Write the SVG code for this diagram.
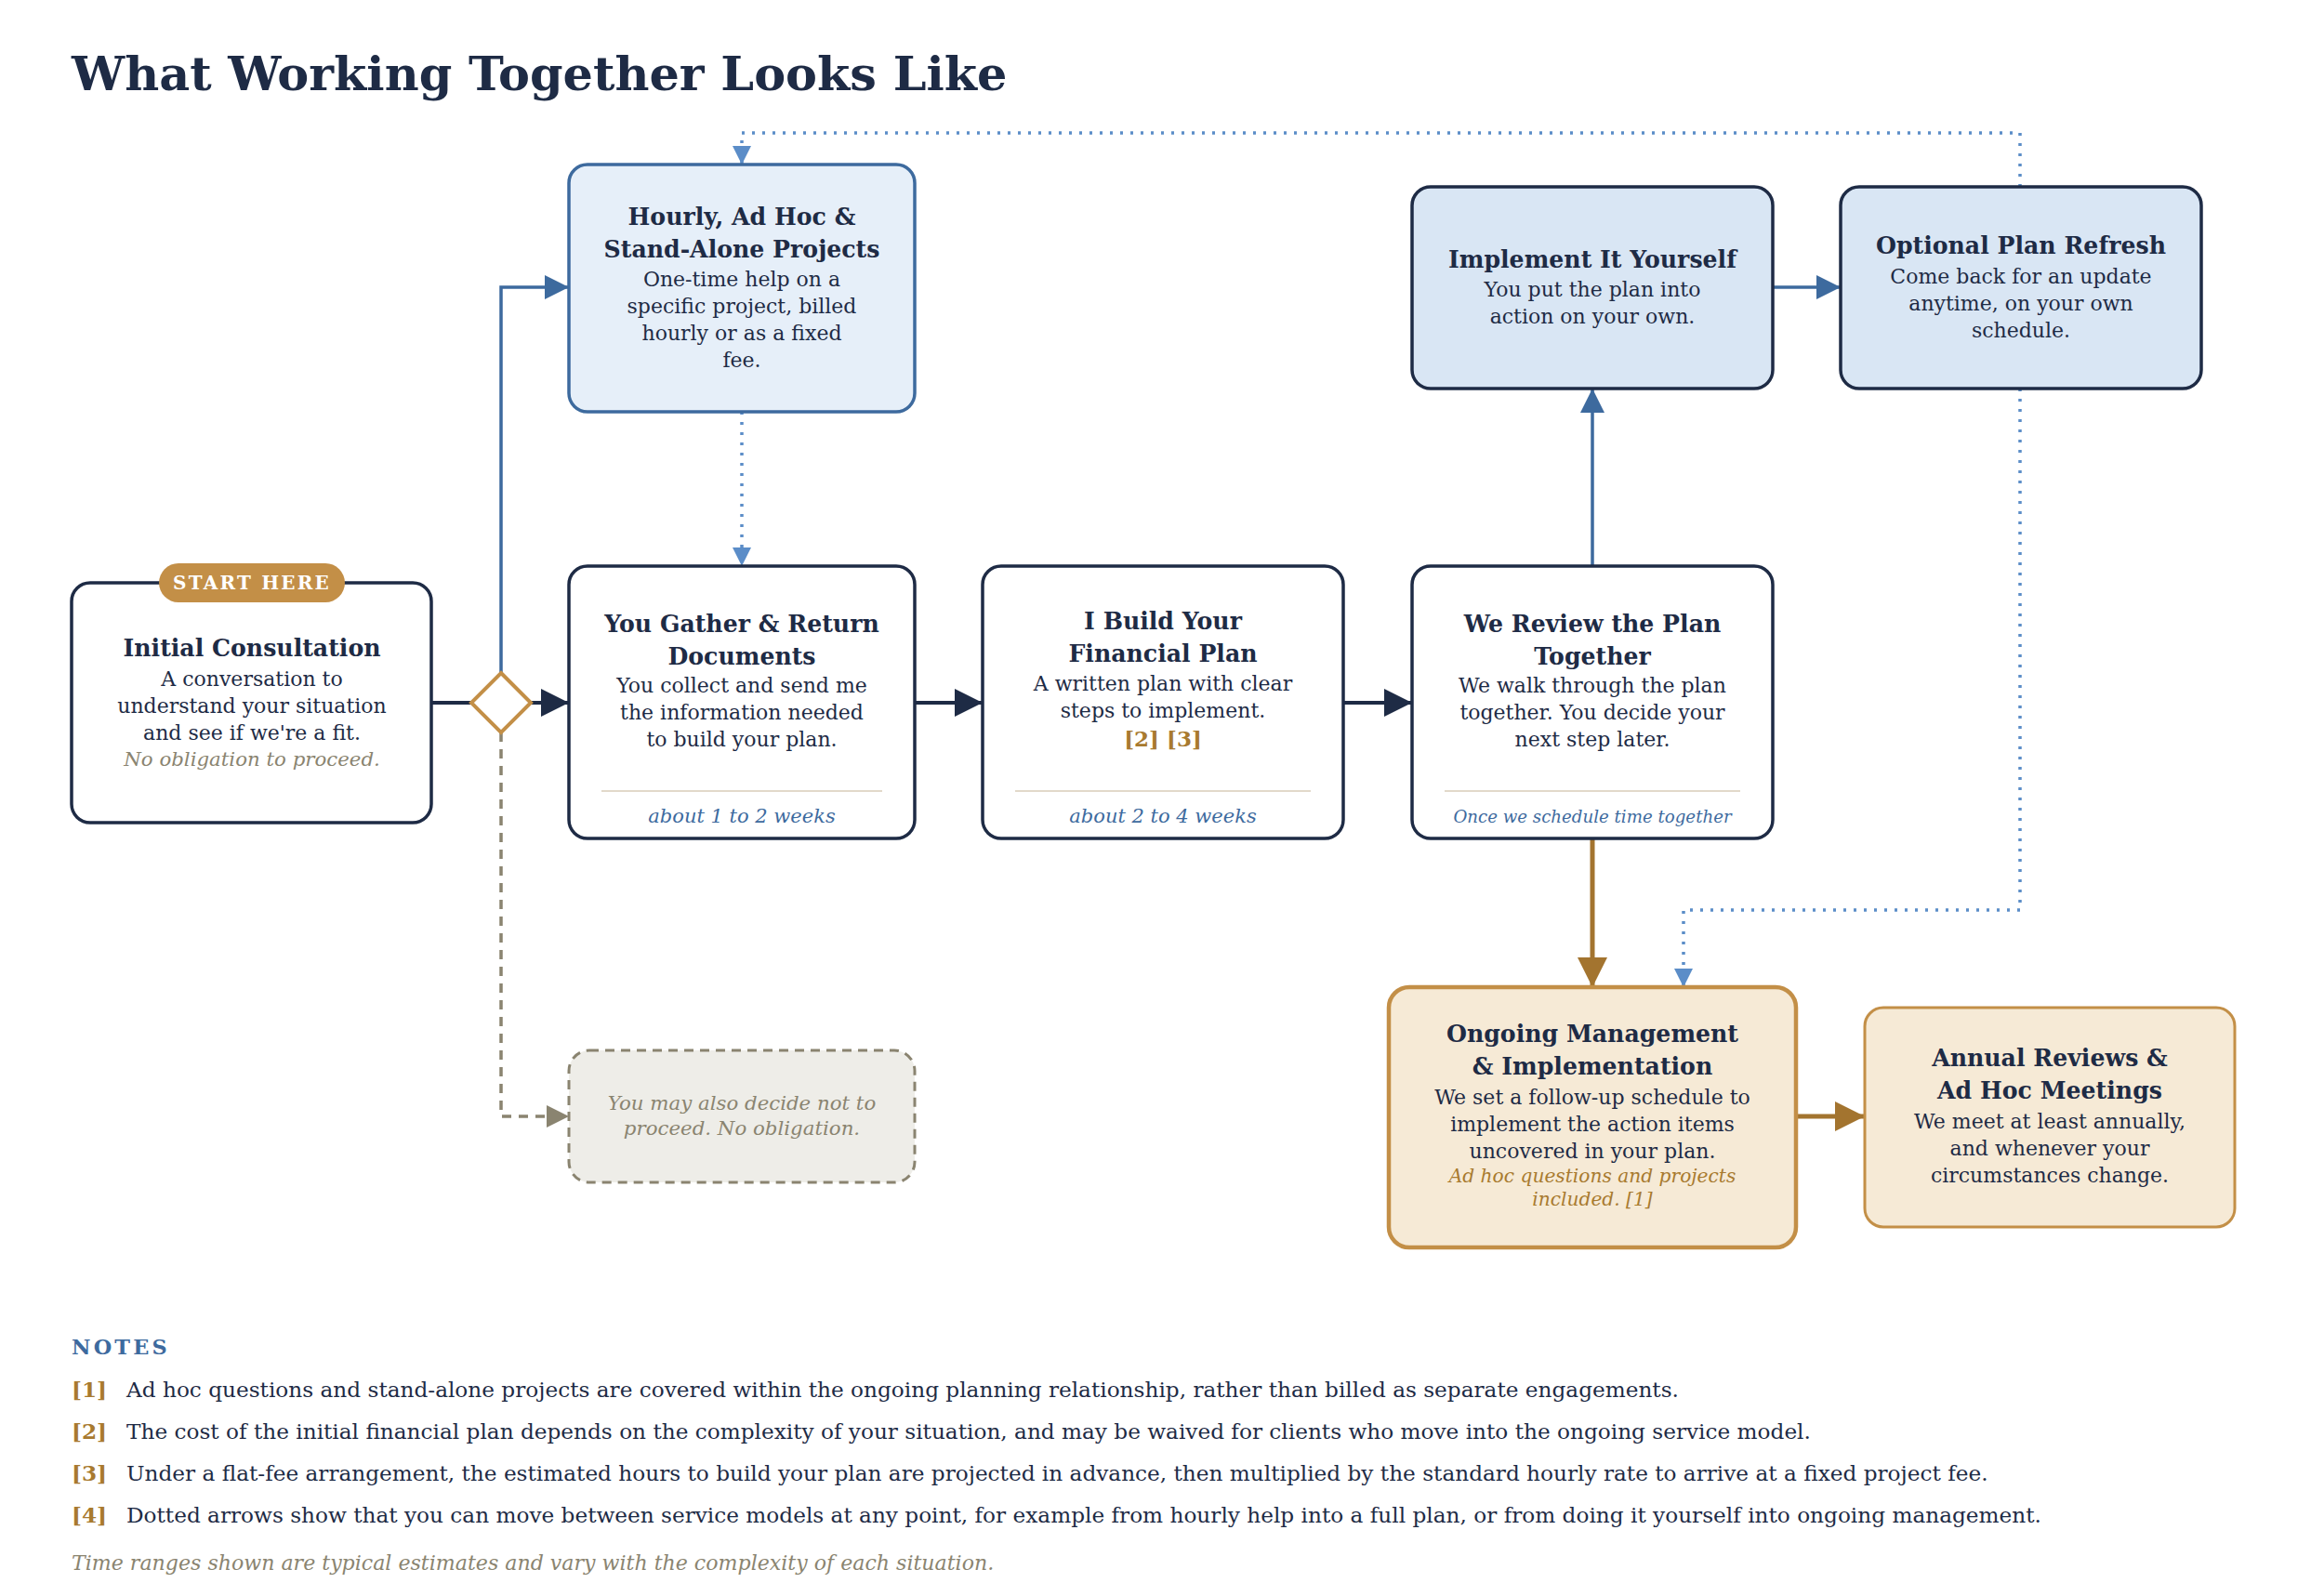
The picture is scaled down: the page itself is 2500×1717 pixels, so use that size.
<svg xmlns="http://www.w3.org/2000/svg" width="2500" height="1717" viewBox="0 0 2500 1717">
<style>
text{font-family:"DejaVu Serif","Liberation Serif",serif;}
.t{font-weight:bold;font-size:25.2px;fill:#1E2B45;text-anchor:middle;}
.b{font-size:22px;fill:#1E2B45;text-anchor:middle;}
.dur{font-size:21px;font-style:italic;fill:#3D6A9E;text-anchor:middle;}
.gi{font-size:21.3px;font-style:italic;fill:#8A8470;text-anchor:middle;}
.navy{fill:#FFFFFF;stroke:#1E2B45;stroke-width:3.5;}
.lb{fill:#D9E6F4;stroke:#1E2B45;stroke-width:3.5;}
.hr{fill:#E6EFF9;stroke:#3D6A9E;stroke-width:3.5;}
.cream{fill:#F6EAD6;stroke:#C38F47;stroke-width:3.5;}
.div{stroke:#D8CDB8;stroke-width:1.5;}
.note{font-size:23.2px;fill:#1E2B45;}
.nk{font-size:23.2px;font-weight:bold;fill:#A87A2F;}
</style>
<defs>
<marker id="aN" markerUnits="userSpaceOnUse" markerWidth="30" markerHeight="32" viewBox="0 0 10 10" refX="10" refY="5" orient="auto"><path d="M0,0 L10,5 L0,10 z" fill="#1E2B45"/></marker>
<marker id="aB" markerUnits="userSpaceOnUse" markerWidth="26" markerHeight="28" viewBox="0 0 10 10" refX="10" refY="5" orient="auto"><path d="M0,0 L10,5 L0,10 z" fill="#3D6A9E"/></marker>
<marker id="aD" markerUnits="userSpaceOnUse" markerWidth="20" markerHeight="22" viewBox="0 0 10 10" refX="10" refY="5" orient="auto"><path d="M0,0 L10,5 L0,10 z" fill="#5B8DC8"/></marker>
<marker id="aG" markerUnits="userSpaceOnUse" markerWidth="32" markerHeight="34" viewBox="0 0 10 10" refX="10" refY="5" orient="auto"><path d="M0,0 L10,5 L0,10 z" fill="#A3742F"/></marker>
<marker id="aX" markerUnits="userSpaceOnUse" markerWidth="24" markerHeight="26" viewBox="0 0 10 10" refX="10" refY="5" orient="auto"><path d="M0,0 L10,5 L0,10 z" fill="#8A8470"/></marker>
</defs>
<rect width="2500" height="1717" fill="#FFFFFF"/>
<text x="77" y="97" style="font-size:50.9px;font-weight:bold;fill:#1E2B45;">What Working Together Looks Like</text>

<g id="connectors" fill="none">
<path d="M464,756 L507,756" stroke="#1E2B45" stroke-width="4"/>
<path d="M571,756 L612,756" stroke="#1E2B45" stroke-width="4" marker-end="url(#aN)"/>
<path d="M539,724 L539,309 L612,309" stroke="#3D6A9E" stroke-width="3.5" marker-end="url(#aB)"/>
<path d="M539,788 L539,1201 L612,1201" stroke="#8A8470" stroke-width="3.5" stroke-dasharray="10,8" marker-end="url(#aX)"/>
<path d="M984,756 L1057,756" stroke="#1E2B45" stroke-width="4" marker-end="url(#aN)"/>
<path d="M1445,756 L1519,756" stroke="#1E2B45" stroke-width="4" marker-end="url(#aN)"/>
<path d="M1713,609 L1713,418" stroke="#3D6A9E" stroke-width="3.5" marker-end="url(#aB)"/>
<path d="M1907,309 L1980,309" stroke="#3D6A9E" stroke-width="3.5" marker-end="url(#aB)"/>
<path d="M1713,902 L1713,1062" stroke="#A3742F" stroke-width="5" marker-end="url(#aG)"/>
<path d="M1932,1201 L2006,1201" stroke="#A3742F" stroke-width="5" marker-end="url(#aG)"/>
<path d="M2173,201 L2173,143 L798,143 L798,177" stroke="#5B8DC8" stroke-width="3.5" stroke-dasharray="3,8" marker-end="url(#aD)"/>
<path d="M798,443 L798,609" stroke="#5B8DC8" stroke-width="3.5" stroke-dasharray="3,8" marker-end="url(#aD)"/>
<path d="M2173,418 L2173,979 L1811,979 L1811,1062" stroke="#5B8DC8" stroke-width="3.5" stroke-dasharray="3,8" marker-end="url(#aD)"/>
</g>

<g id="diamond">
<path d="M539,724 L571,756 L539,788 L507,756 Z" fill="#FFFFFF" stroke="#C38F47" stroke-width="4"/>
</g>

<g id="initial">
<rect class="navy" x="77" y="627" width="387" height="258" rx="20"/>
<rect x="171" y="606" width="200" height="42" rx="21" fill="#C38F47"/>
<text x="271" y="634" style="font-size:20px;font-weight:bold;fill:#FFFFFF;text-anchor:middle;letter-spacing:2.2px;">START HERE</text>
<text class="t" x="271" y="706">Initial Consultation</text>
<text class="b" x="271" y="738">A conversation to</text>
<text class="b" x="271" y="767">understand your situation</text>
<text class="b" x="271" y="796">and see if we're a fit.</text>
<text class="gi" x="271" y="824">No obligation to proceed.</text>
</g>

<g id="hourly">
<rect class="hr" x="612" y="177" width="372" height="266" rx="20"/>
<text class="t" x="798" y="242">Hourly, Ad Hoc &amp;</text>
<text class="t" x="798" y="277">Stand-Alone Projects</text>
<text class="b" x="798" y="308">One-time help on a</text>
<text class="b" x="798" y="337">specific project, billed</text>
<text class="b" x="798" y="366">hourly or as a fixed</text>
<text class="b" x="798" y="395">fee.</text>
</g>

<g id="gather">
<rect class="navy" x="612" y="609" width="372" height="293" rx="20"/>
<text class="t" x="798" y="680">You Gather &amp; Return</text>
<text class="t" x="798" y="715">Documents</text>
<text class="b" x="798" y="745">You collect and send me</text>
<text class="b" x="798" y="774">the information needed</text>
<text class="b" x="798" y="803">to build your plan.</text>
<line class="div" x1="647" y1="851" x2="949" y2="851"/>
<text class="dur" x="798" y="885">about 1 to 2 weeks</text>
</g>

<g id="build">
<rect class="navy" x="1057" y="609" width="388" height="293" rx="20"/>
<text class="t" x="1251" y="677">I Build Your</text>
<text class="t" x="1251" y="712">Financial Plan</text>
<text class="b" x="1251" y="743">A written plan with clear</text>
<text class="b" x="1251" y="772">steps to implement.</text>
<text x="1251" y="803" style="font-size:23px;font-weight:bold;fill:#A87A2F;text-anchor:middle;">[2] [3]</text>
<line class="div" x1="1092" y1="851" x2="1410" y2="851"/>
<text class="dur" x="1251" y="885">about 2 to 4 weeks</text>
</g>

<g id="review">
<rect class="navy" x="1519" y="609" width="388" height="293" rx="20"/>
<text class="t" x="1713" y="680">We Review the Plan</text>
<text class="t" x="1713" y="715">Together</text>
<text class="b" x="1713" y="745">We walk through the plan</text>
<text class="b" x="1713" y="774">together. You decide your</text>
<text class="b" x="1713" y="803">next step later.</text>
<line class="div" x1="1554" y1="851" x2="1872" y2="851"/>
<text class="dur" x="1713" y="885" style="font-size:18.2px;">Once we schedule time together</text>
</g>

<g id="implement">
<rect class="lb" x="1519" y="201" width="388" height="217" rx="20"/>
<text class="t" x="1713" y="288">Implement It Yourself</text>
<text class="b" x="1713" y="319">You put the plan into</text>
<text class="b" x="1713" y="348">action on your own.</text>
</g>

<g id="refresh">
<rect class="lb" x="1980" y="201" width="388" height="217" rx="20"/>
<text class="t" x="2174" y="273">Optional Plan Refresh</text>
<text class="b" x="2174" y="305">Come back for an update</text>
<text class="b" x="2174" y="334">anytime, on your own</text>
<text class="b" x="2174" y="363">schedule.</text>
</g>

<g id="ongoing">
<rect class="cream" x="1494" y="1062" width="438" height="280" rx="22" style="stroke-width:4.5"/>
<text class="t" x="1713" y="1121">Ongoing Management</text>
<text class="t" x="1713" y="1156">&amp; Implementation</text>
<text class="b" x="1713" y="1188">We set a follow-up schedule to</text>
<text class="b" x="1713" y="1217">implement the action items</text>
<text class="b" x="1713" y="1246">uncovered in your plan.</text>
<text x="1713" y="1272" style="font-size:20.2px;font-style:italic;fill:#A87A2F;text-anchor:middle;">Ad hoc questions and projects</text>
<text x="1713" y="1297" style="font-size:20.2px;font-style:italic;fill:#A87A2F;text-anchor:middle;">included. [1]</text>
</g>

<g id="annual">
<rect class="cream" x="2006" y="1084" width="398" height="236" rx="20" style="stroke-width:3"/>
<text class="t" x="2205" y="1147">Annual Reviews &amp;</text>
<text class="t" x="2205" y="1182">Ad Hoc Meetings</text>
<text class="b" x="2205" y="1214">We meet at least annually,</text>
<text class="b" x="2205" y="1243">and whenever your</text>
<text class="b" x="2205" y="1272">circumstances change.</text>
</g>

<g id="decline">
<rect x="612" y="1130" width="372" height="142" rx="22" fill="#EEEDE8" stroke="#8A8470" stroke-width="3" stroke-dasharray="10,7"/>
<text class="gi" x="798" y="1194">You may also decide not to</text>
<text class="gi" x="798" y="1221">proceed. No obligation.</text>
</g>

<g id="notes">
<text x="77" y="1457" style="font-size:22.4px;font-weight:bold;fill:#3D6A9E;letter-spacing:3.2px;">NOTES</text>
<text class="nk" x="77" y="1503">[1]</text>
<text class="note" x="136" y="1503">Ad hoc questions and stand-alone projects are covered within the ongoing planning relationship, rather than billed as separate engagements.</text>
<text class="nk" x="77" y="1548">[2]</text>
<text class="note" x="136" y="1548">The cost of the initial financial plan depends on the complexity of your situation, and may be waived for clients who move into the ongoing service model.</text>
<text class="nk" x="77" y="1593">[3]</text>
<text class="note" x="136" y="1593">Under a flat-fee arrangement, the estimated hours to build your plan are projected in advance, then multiplied by the standard hourly rate to arrive at a fixed project fee.</text>
<text class="nk" x="77" y="1638">[4]</text>
<text class="note" x="136" y="1638">Dotted arrows show that you can move between service models at any point, for example from hourly help into a full plan, or from doing it yourself into ongoing management.</text>
<text x="77" y="1689" style="font-size:22.1px;font-style:italic;fill:#8A8470;">Time ranges shown are typical estimates and vary with the complexity of each situation.</text>
</g>
</svg>
